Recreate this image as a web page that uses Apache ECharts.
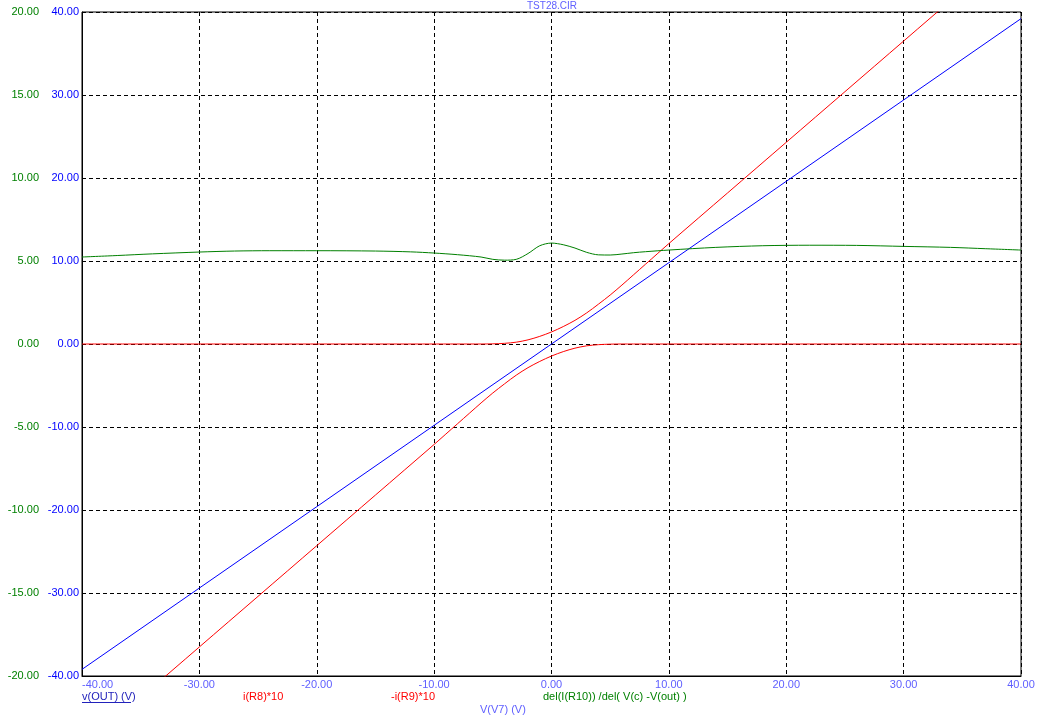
<!DOCTYPE html>
<html>
<head>
<meta charset="utf-8">
<script src="https://cdn.jsdelivr.net/npm/echarts@6/dist/echarts.min.js"></script>
<style>html,body{margin:0;padding:0;background:#fff}#c{width:1048px;height:718px}</style>
</head>
<body>
<div id="c"></div>
<script>
// V(V7) sweep values (x) and traces
var blueX = [-40, -30, -20, -10, 0, 10, 20, 30, 40];
var vOut  = [-39.2, -29.4, -19.6, -9.8, 0, 9.8, 19.6, 29.4, 39.2];

var r8X = [-40, -6, -5, -4, -3, -2, -1, 0, 1, 2, 3, 4, 5, 6, 7, 8, 9, 10, 15, 20, 25, 30, 35, 40];
var iR8 = [0, 0, 0.02, 0.08, 0.22, 0.5, 0.92, 1.45, 2.1, 2.85, 3.75, 4.8, 5.9, 7.1, 8.35, 9.6, 10.85, 12.1, 18.2, 24.3, 30.4, 36.5, 42.6, 48.7];

var r9X = [-40, -35, -30, -25, -20, -15, -10, -9, -8, -7, -6, -5, -4, -3, -2, -1, 0, 1, 2, 3, 4, 5, 6, 40];
var iR9 = [-48.7, -42.6, -36.5, -30.4, -24.3, -18.2, -12.1, -10.85, -9.6, -8.35, -7.1, -5.9, -4.8, -3.75, -2.85, -2.1, -1.45, -0.92, -0.5, -0.22, -0.08, -0.02, 0, 0];

var delX = [-40, -37, -34, -30, -27, -24, -20, -15, -12, -10, -8, -6, -5, -4, -3, -2, -1, 0, 1, 2, 3, 4, 5, 6, 7, 8, 10, 14, 18, 22, 26, 30, 34, 37, 40];
var delV = [5.24, 5.33, 5.43, 5.54, 5.6, 5.62, 5.62, 5.6, 5.55, 5.48, 5.38, 5.24, 5.1, 5.05, 5.1, 5.45, 5.92, 6.08, 5.98, 5.78, 5.52, 5.37, 5.36, 5.42, 5.5, 5.56, 5.66, 5.82, 5.92, 5.95, 5.94, 5.88, 5.82, 5.74, 5.66];

var xTicks = [-40, -30, -20, -10, 0, 10, 20, 30, 40];

function zip(xs, ys) { return xs.map(function (x, i) { return [x, ys[i]]; }); }
function fmt(v) { return v.toFixed(2); }

var FONT = 'Liberation Sans';
var chart = echarts.init(document.getElementById('c'), null, { renderer: 'canvas' });

chart.setOption({
  animation: false,
  backgroundColor: '#ffffff',
  grid: { left: 82, top: 12, width: 939, height: 664, show: true, borderColor: '#000', borderWidth: 1, containLabel: false },
  xAxis: {
    type: 'value', min: -40, max: 40, interval: 10,
    axisLine: { show: true, onZero: false, lineStyle: { color: '#000', width: 1 } },
    axisTick: { show: false },
    splitLine: { show: true, lineStyle: { color: '#000', type: [4, 3], width: 1 } },
    axisLabel: { color: '#6060ff', fontSize: 11, fontFamily: FONT, margin: 3, formatter: fmt, alignMinLabel: 'left' }
  },
  yAxis: [
    {
      type: 'value', min: -40, max: 40, interval: 10, position: 'left',
      axisLine: { show: true, onZero: false, lineStyle: { color: '#000', width: 1 } },
      axisTick: { show: false },
      splitLine: { show: true, lineStyle: { color: '#000', type: [4, 3], width: 1 } },
      axisLabel: { color: '#0000ff', fontSize: 11, fontFamily: FONT, margin: 3, formatter: fmt }
    },
    {
      type: 'value', min: -20, max: 20, interval: 5, position: 'left',
      axisLine: { show: false }, axisTick: { show: false }, splitLine: { show: false },
      axisLabel: { color: '#008000', fontSize: 11, fontFamily: FONT, margin: 43, formatter: fmt }
    }
  ],
  series: [
    { type: 'line', name: 'v(OUT)', data: zip(blueX, vOut), yAxisIndex: 0, showSymbol: false, lineStyle: { color: '#0000ff', width: 1 }, z: 3 },
    { type: 'line', name: 'i(R8)*10', data: zip(r8X, iR8), yAxisIndex: 0, showSymbol: false, smooth: 0.3, lineStyle: { color: '#ff0000', width: 1 }, z: 4 },
    { type: 'line', name: '-i(R9)*10', data: zip(r9X, iR9), yAxisIndex: 0, showSymbol: false, smooth: 0.3, lineStyle: { color: '#ff0000', width: 1 }, z: 4 },
    { type: 'line', name: 'del', data: zip(delX, delV), yAxisIndex: 1, showSymbol: false, smooth: 0.3, lineStyle: { color: '#008000', width: 1 }, z: 5 }
  ],
  graphic: [
    { type: 'text', x: 552, y: 1, style: { text: 'TST28.CIR', fill: '#6060ff', font: '10px ' + FONT, textAlign: 'center', textVerticalAlign: 'top' } },
    { type: 'text', left: 82, top: 691, style: { text: 'v(OUT) (V)', fill: '#2222bb', font: '11px ' + FONT } },
    { type: 'line', shape: { x1: 82, y1: 702.5, x2: 131, y2: 702.5 }, style: { stroke: '#2222bb', lineWidth: 1 } },
    { type: 'text', left: 243, top: 691, style: { text: 'i(R8)*10', fill: '#ff0000', font: '11px ' + FONT } },
    { type: 'text', left: 391, top: 691, style: { text: '-i(R9)*10', fill: '#ff0000', font: '11px ' + FONT } },
    { type: 'text', left: 543, top: 691, style: { text: 'del(I(R10)) /del( V(c) -V(out) )', fill: '#008000', font: '11px ' + FONT } },
    { type: 'text', left: 480, top: 704, style: { text: 'V(V7) (V)', fill: '#6060ff', font: '11px ' + FONT } }
  ]
});
</script>
</body>
</html>
